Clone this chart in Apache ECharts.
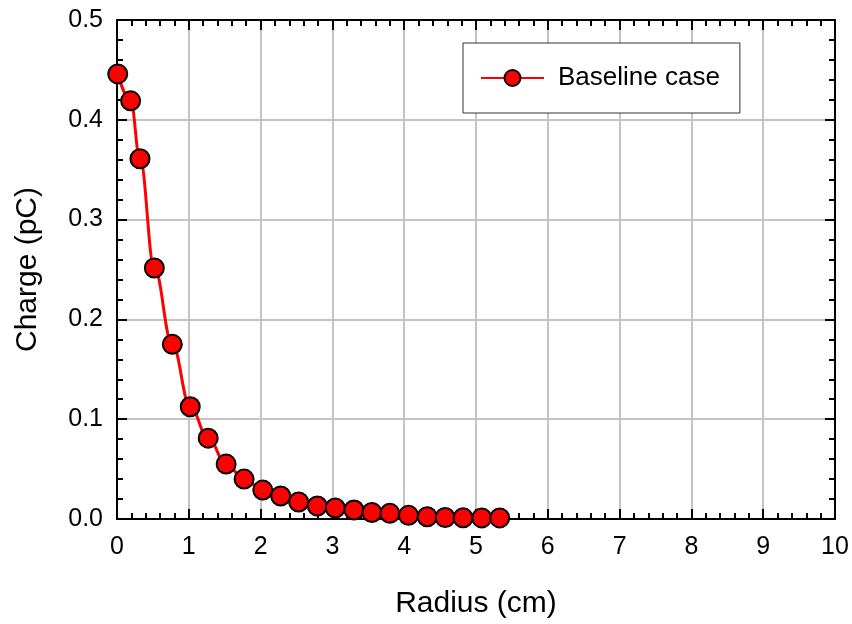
<!DOCTYPE html>
<html>
<head>
<meta charset="utf-8">
<script src="https://cdn.jsdelivr.net/npm/echarts@6/dist/echarts.min.js"></script>
<style>
html, body { margin: 0; padding: 0; background: #fff; }
#chart { width: 852px; height: 624px; }
</style>
</head>
<body>
<div id="chart"></div>
<script>
// data
var radius = [0.01, 0.19, 0.32, 0.52, 0.77, 1.02, 1.27, 1.52, 1.77, 2.03, 2.28, 2.53,
              2.79, 3.04, 3.30, 3.55, 3.80, 4.06, 4.32, 4.57, 4.82, 5.08, 5.33];
var charge = [0.446, 0.419, 0.361, 0.2515, 0.175, 0.1125, 0.081, 0.055, 0.040, 0.029, 0.023, 0.017,
              0.013, 0.011, 0.009, 0.0065, 0.0057, 0.0037, 0.0023, 0.0015, 0.0012, 0.0011, 0.0011];
var xTicks = [0, 1, 2, 3, 4, 5, 6, 7, 8, 9, 10];
var yTicks = ['0.0', '0.1', '0.2', '0.3', '0.4', '0.5'];

var points = radius.map(function (r, i) { return [r, charge[i]]; });
var font = 'Liberation Sans, Arial, sans-serif';

var myChart = echarts.init(document.getElementById('chart'));

function axisBase(extra) {
    var a = {
        type: 'value',
        axisLine: { show: true, onZero: false, lineStyle: { color: '#000', width: 2 } },
        axisTick: { show: true, inside: true, length: 10, lineStyle: { color: '#000', width: 2 } },
        minorTick: { show: true, splitNumber: 5, length: 6, lineStyle: { color: '#000', width: 2 } },
        splitLine: { show: false },
        axisLabel: { show: false }
    };
    for (var k in extra) a[k] = extra[k];
    return a;
}

var option = {
    backgroundColor: '#fff',
    animation: false,
    grid: { left: 117, right: 17, top: 20, bottom: 105, containLabel: false, outerBoundsMode: 'none' },
    legend: {
        left: 463,
        top: 43,
        orient: 'horizontal',
        backgroundColor: '#fff',
        borderColor: '#333',
        borderWidth: 1,
        borderRadius: 0,
        padding: [22, 20, 22, 17],
        itemWidth: 63,
        itemHeight: 20,
        textStyle: { fontFamily: font, fontSize: 26, color: '#000', padding: [0, 0, 0, 9] },
        data: ['Baseline case']
    },
    xAxis: [
        axisBase({
            min: 0, max: 10, interval: 1,
            position: 'bottom',
            name: 'Radius (cm)',
            nameLocation: 'middle',
            nameGap: 70,
            nameTextStyle: { fontFamily: font, fontSize: 30, color: '#000' },
            splitLine: { show: true, lineStyle: { color: '#c4c4c4', width: 2 } },
            axisLabel: {
                show: true, margin: 16, fontFamily: font, fontSize: 25, color: '#000',
                formatter: function (v) { return xTicks.indexOf(v) >= 0 ? String(v) : ''; }
            }
        }),
        axisBase({ min: 0, max: 10, interval: 1, position: 'top' })
    ],
    yAxis: [
        axisBase({
            min: 0, max: 0.5, interval: 0.1,
            position: 'left',
            name: 'Charge (pC)',
            nameLocation: 'middle',
            nameGap: 74,
            nameTextStyle: { fontFamily: font, fontSize: 30, color: '#000' },
            splitLine: { show: true, lineStyle: { color: '#c4c4c4', width: 2 } },
            axisLabel: {
                show: true, margin: 14, fontFamily: font, fontSize: 25, color: '#000',
                formatter: function (v) { return yTicks[Math.round(v * 10)]; }
            }
        }),
        axisBase({ min: 0, max: 0.5, interval: 0.1, position: 'right' })
    ],
    series: [
        {
            name: 'Baseline case',
            type: 'line',
            data: points,
            smooth: 0.4,
            smoothMonotone: 'x',
            symbol: 'circle',
            symbolSize: 19,
            lineStyle: { color: '#ff0000', width: 3 },
            itemStyle: { color: '#ff0000', borderColor: '#000', borderWidth: 2 },
            clip: false,
            z: 5
        }
    ]
};

myChart.setOption(option);
</script>
</body>
</html>
